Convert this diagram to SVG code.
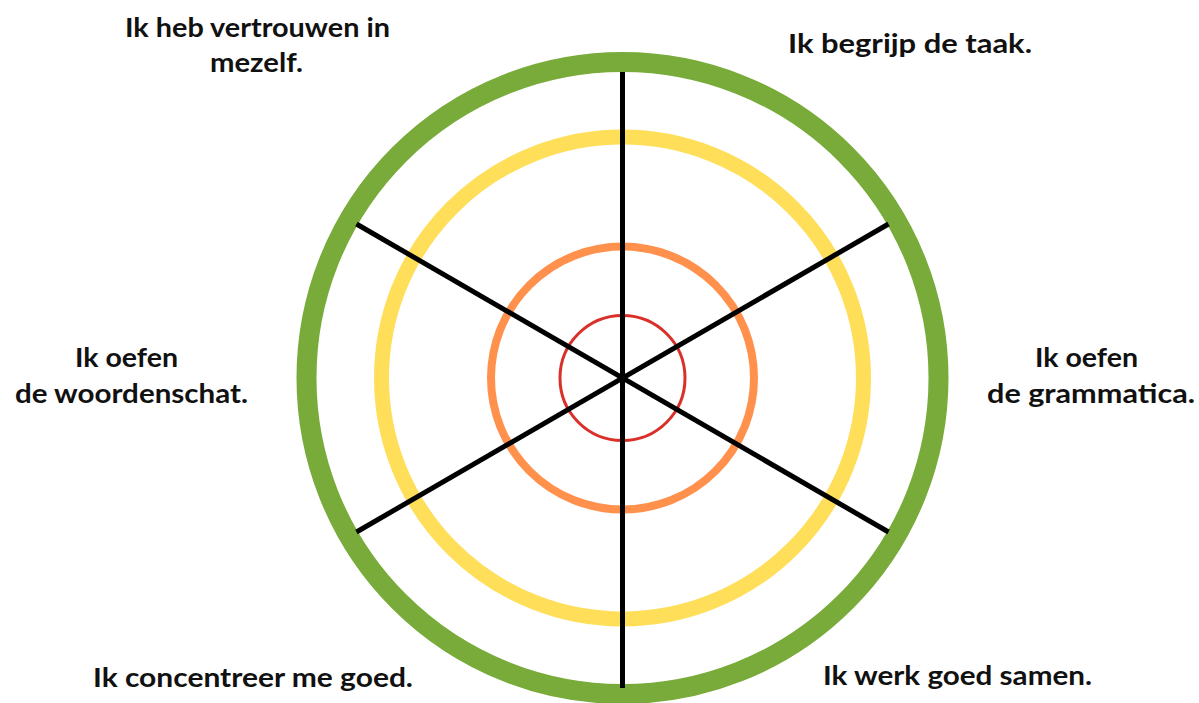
<svg xmlns="http://www.w3.org/2000/svg" width="1199" height="703" viewBox="0 0 1199 703">
<style>
.ring{fill:none}
.spoke{stroke:#000;stroke-width:5;stroke-linecap:butt}
.lbl{font-family:Lato,"Liberation Sans",sans-serif;font-size:27px;font-weight:700;fill:#111;text-anchor:middle}
</style>
<rect width="1199" height="703" fill="#fff"/>
<g id="rings">
<circle id="ring-green" class="ring" cx="622.5" cy="378" r="316" stroke="#78AB39" stroke-width="20"/>
<circle id="ring-yellow" class="ring" cx="622.5" cy="378" r="241" stroke="#FFDE59" stroke-width="15"/>
<circle id="ring-orange" class="ring" cx="622.5" cy="378" r="131.5" stroke="#FF914D" stroke-width="8"/>
<circle id="ring-red" class="ring" cx="622.5" cy="378" r="62.5" stroke="#D9302A" stroke-width="3"/>
</g>
<g id="connectors">
<line class="spoke" x1="622.5" y1="72" x2="622.5" y2="688"/>
<line class="spoke" x1="356.5" y1="224" x2="888.5" y2="532"/>
<line class="spoke" x1="356.5" y1="532" x2="888.5" y2="224"/>
</g>
<g id="label-vertrouwen">
<text class="lbl" x="257.5" y="37" textLength="265" lengthAdjust="spacingAndGlyphs">Ik heb vertrouwen in</text>
<text class="lbl" x="256.5" y="72" textLength="93" lengthAdjust="spacingAndGlyphs">mezelf.</text>
</g>
<g id="label-taak">
<text class="lbl" x="910" y="53" textLength="244" lengthAdjust="spacingAndGlyphs">Ik begrijp de taak.</text>
</g>
<g id="label-woordenschat">
<text class="lbl" x="126.5" y="367" textLength="103" lengthAdjust="spacingAndGlyphs">Ik oefen</text>
<text class="lbl" x="131.5" y="403" textLength="233" lengthAdjust="spacingAndGlyphs">de woordenschat.</text>
</g>
<g id="label-grammatica">
<text class="lbl" x="1086.5" y="367" textLength="103" lengthAdjust="spacingAndGlyphs">Ik oefen</text>
<text class="lbl" x="1091" y="403" textLength="208" lengthAdjust="spacingAndGlyphs">de grammatica.</text>
</g>
<g id="label-concentreer">
<text class="lbl" x="253" y="687" textLength="320" lengthAdjust="spacingAndGlyphs">Ik concentreer me goed.</text>
</g>
<g id="label-samen">
<text class="lbl" x="957.5" y="685" textLength="269" lengthAdjust="spacingAndGlyphs">Ik werk goed samen.</text>
</g>
</svg>
